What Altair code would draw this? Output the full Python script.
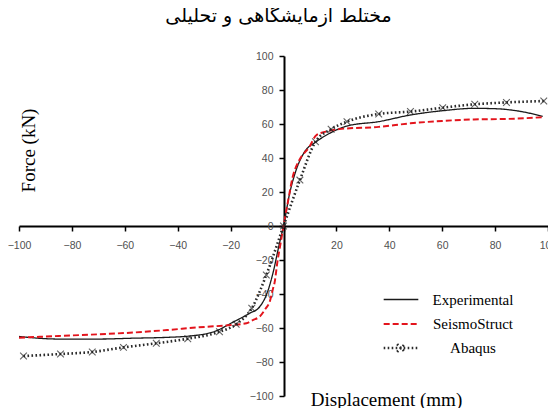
import altair as alt
import pandas as pd

series_names = ["Experimental", "SeismoStruct", "Abaqus"]
series_colors = ["#1a1a1a", "#e3141c", "#2a2a2a"]
series_dashes = [[1, 0], [6, 3], [1.6, 2.4]]
series_widths = [1.3, 2.6, 1.6]

exp_x = [-100, -85, -70, -57, -44, -36, -26, -19, -13, -9, -6, -4, -1.5, 0,
         2.3, 4.8, 8, 12.4, 17.4, 24, 36, 48, 60, 72, 80, 90, 98]
exp_y = [-65, -66.5, -66.5, -66, -65.5, -64.8, -62, -56.5, -51.5, -47.5, -38.6, -27.8, -10, 0,
         19, 33, 43.7, 49.6, 54.5, 58.8, 61.4, 65.3, 67.8, 69.2, 69, 67.3, 64.5]

ss_x = [-100, -85, -70, -57, -44, -32, -22, -14, -11.6, -9, -6.5, -5.3, -4, -3.4, -2.2, -1.3, 0,
        1.6, 3.5, 6, 9.8, 12.4, 16, 21, 36, 48, 60, 72, 85, 98]
ss_y = [-65.7, -64.7, -63.7, -62.7, -61.2, -59.6, -58.5, -57.2, -55.3, -53.3, -48, -45, -37, -33.5, -20, -12, 0,
        13.6, 29, 38.8, 46.6, 53.4, 55.5, 57, 58.3, 60.4, 61.8, 62.7, 63, 64]

ab_x = [-98.3, -84.3, -72.3, -60.5, -48.1, -36.2, -24.2, -17.9, -12, -6.5, 0,
        6.2, 12.1, 18, 24, 36, 48, 60.2, 72.3, 84.3, 98.4]
ab_y = [-76.5, -75.3, -74.1, -71.4, -69, -66.3, -62.2, -57.8, -48.4, -28.8, 0,
        27, 49.6, 56.9, 61.4, 65.9, 67.3, 69.6, 71.6, 72.7, 73.5]

x_ticks = [-100, -80, -60, -40, -20, 0, 20, 40, 60, 80, 100]
y_ticks = [-100, -80, -60, -40, -20, 0, 20, 40, 60, 80, 100]

rows = []
for name, xs, ys in zip(series_names, [exp_x, ss_x, ab_x], [exp_y, ss_y, ab_y]):
    for i, (a, b) in enumerate(zip(xs, ys)):
        rows.append({"series": name, "disp": a, "force": b, "order": i})
df = pd.DataFrame(rows)
df_ab = df[df["series"] == "Abaqus"]

xscale = alt.Scale(domain=[-100, 100], nice=False, zero=False)
yscale = alt.Scale(domain=[-100, 100], nice=False, zero=False)

common_axis = dict(
    grid=False, domainColor="black", domainWidth=2, tickColor="black", tickWidth=1.5, tickSize=5,
    labelFont="Liberation Sans", labelFontSize=10.5, labelColor="#505050",
    labelFlush=False, labelOverlap=False,
    titleFont="Liberation Serif", titleFontSize=19, titleFontWeight="normal", titleColor="black",
)

x_axis = alt.Axis(values=x_ticks, offset=-170, labelPadding=9,
                  labelExpr="datum.value == 0 ? '' : datum.label",
                  title="Displacement (mm)", titleX=367, titleY=173, titleBaseline="middle",
                  titleAlign="center", **common_axis)
y_axis = alt.Axis(values=y_ticks, offset=-265, labelPadding=6,
                  title="Force (kN)", titleX=-256, titleY=94, titleAngle=270,
                  titleBaseline="middle", titleAlign="center", **common_axis)

sym_expr = ("datum.value == 'Abaqus' ? "
            "'M-2,0H2M-0.45,-0.45L0.45,0.45M-0.45,0.45L0.45,-0.45' : 'M-2,0H2'")
legend = alt.Legend(
    title=None, orient="none", legendX=372, legendY=234, padding=0,
    symbolType={"expr": sym_expr}, symbolSize=300,
    symbolStrokeWidth={"expr": "datum.value == 'SeismoStruct' ? 2.6 : 1.5"},
    labelFont="Liberation Serif", labelFontSize=15, labelColor="black",
    labelAlign="center", labelOffset=62, rowPadding=6,
)

lines = alt.Chart(df).mark_line(interpolate="monotone").encode(
    x=alt.X("disp:Q", scale=xscale, axis=x_axis),
    y=alt.Y("force:Q", scale=yscale, axis=y_axis),
    order="order:Q",
    color=alt.Color("series:N", scale=alt.Scale(domain=series_names, range=series_colors), legend=legend),
    strokeDash=alt.StrokeDash("series:N", scale=alt.Scale(domain=series_names, range=series_dashes), legend=legend),
    strokeWidth=alt.StrokeWidth("series:N", scale=alt.Scale(domain=series_names, range=series_widths), legend=None),
)

pts = alt.Chart(df_ab).mark_point(
    shape="M-1,-1L1,1M-1,1L1,-1", filled=False, size=45, color="#222222", strokeWidth=1.1
).encode(x=alt.X("disp:Q", scale=xscale, axis=x_axis), y=alt.Y("force:Q", scale=yscale, axis=y_axis))

chart = alt.layer(lines, pts).properties(
    width=529, height=340,
    title=alt.TitleParams(text="مختلط آزمایشگاهی و تحلیلی", font="DejaVu Sans", fontSize=19,
                          fontWeight="normal", color="black", anchor="middle", offset=25, dx=-5),
    autosize=alt.AutoSizeParams(type="none"),
    padding={"left": 11, "top": 48, "right": 0, "bottom": 12},
).configure_view(stroke=None).configure_axis(labelOverlap=False)

chart.save("out.html", embed_options={"renderer": "svg", "actions": False})
